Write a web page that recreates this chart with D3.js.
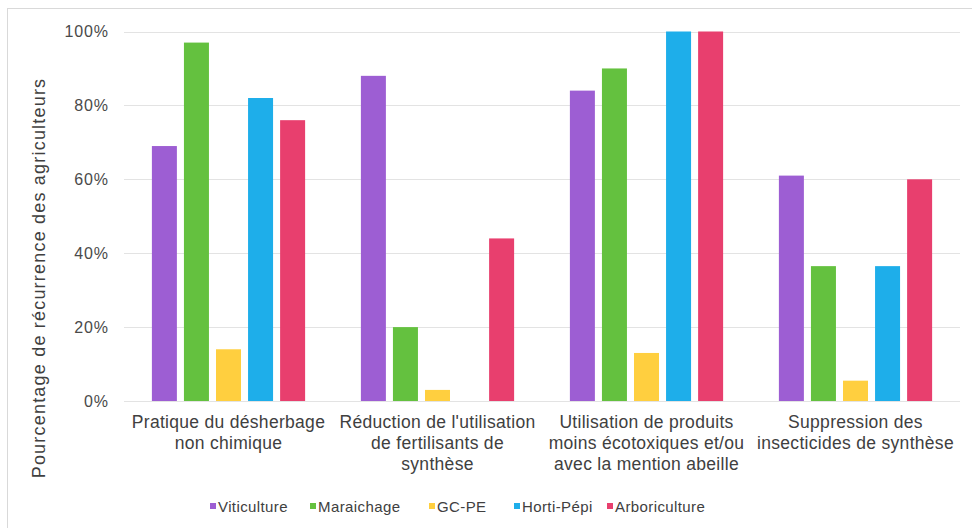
<!DOCTYPE html>
<html>
<head>
<meta charset="utf-8">
<script src="https://cdn.jsdelivr.net/npm/d3@7"></script>
<style>
  html, body { margin: 0; padding: 0; background: #fff; }
  svg text { font-family: "Liberation Sans", Arial, sans-serif; fill: #404040; }
</style>
</head>
<body>
<svg id="chart" width="972" height="528"></svg>
<script>
// Pratiques agroécologiques par filière (% des agriculteurs)
const categories = [
  ["Pratique du désherbage", "non chimique"],
  ["Réduction de l'utilisation", "de fertilisants de", "synthèse"],
  ["Utilisation de produits", "moins écotoxiques et/ou", "avec la mention abeille"],
  ["Suppression des", "insecticides de synthèse"]
];
const seriesNames = ["Viticulture", "Maraichage", "GC-PE", "Horti-Pépi", "Arboriculture"];
const seriesColors = ["#9d5ed3", "#64c13f", "#ffcf3f", "#1eaeea", "#e83f6e"];
const viticulture   = [69, 88, 84, 61];
const maraichage    = [97, 20, 90, 36.5];
const gcpe          = [14, 3, 13, 5.5];
const hortiPepi     = [82, 0, 100, 36.5];
const arboriculture = [76, 44, 100, 60];
const yTicks = [0, 20, 40, 60, 80, 100];

const series = [viticulture, maraichage, gcpe, hortiPepi, arboriculture];

const svg = d3.select("#chart");
const plot = { left: 124, right: 960, top: 31.5, bottom: 401 };

// chart frame
svg.append("rect")
  .attr("x", 7.5).attr("y", 8.5)
  .attr("width", 975).attr("height", 540)
  .attr("fill", "#fff").attr("stroke", "#d9d9d9");

const x0 = d3.scaleBand()
  .domain(d3.range(categories.length))
  .range([plot.left, plot.right])
  .padding(0);

const x1 = d3.scaleBand()
  .domain(d3.range(seriesNames.length))
  .range([0, x0.bandwidth()])
  .paddingInner(0.22)
  .paddingOuter(0.87);

const y = d3.scaleLinear().domain([0, 100]).range([plot.bottom, plot.top]);

// gridlines
svg.append("g")
  .selectAll("line")
  .data(yTicks)
  .join("line")
  .attr("x1", plot.left).attr("x2", plot.right)
  .attr("y1", d => Math.round(y(d)) + 0.5).attr("y2", d => Math.round(y(d)) + 0.5)
  .attr("stroke", "#e3e3e3").attr("stroke-width", 1);

// y axis tick labels
const yAxis = d3.axisLeft(y).tickValues(yTicks).tickFormat(d => d + "%").tickSize(0).tickPadding(0);
const gy = svg.append("g").attr("transform", `translate(${plot.left - 15},0)`).call(yAxis);
gy.select(".domain").remove();
gy.selectAll("text")
  .style("font-family", "'Liberation Sans', Arial, sans-serif")
  .style("font-size", "16px")
  .style("letter-spacing", "0.9px")
  .style("fill", "#4a4a4a");

// bars
const groups = svg.append("g")
  .selectAll("g")
  .data(categories.map((c, i) => i))
  .join("g")
  .attr("transform", i => `translate(${x0(i)},0)`);

groups.selectAll("rect")
  .data(i => series.map((s, k) => ({ k, v: s[i] })))
  .join("rect")
  .attr("x", d => x1(d.k))
  .attr("width", x1.bandwidth())
  .attr("y", d => y(d.v))
  .attr("height", d => y(0) - y(d.v))
  .attr("fill", d => seriesColors[d.k]);

// category labels
const catLabels = svg.append("g")
  .selectAll("text")
  .data(categories)
  .join("text")
  .attr("x", (d, i) => x0(i) + x0.bandwidth() / 2)
  .attr("y", 428)
  .attr("text-anchor", "middle")
  .style("font-size", "17.5px")
  .style("letter-spacing", "0.3px");
catLabels.selectAll("tspan")
  .data(d => d)
  .join("tspan")
  .attr("x", function () { return d3.select(this.parentNode).attr("x"); })
  .attr("dy", (d, j) => j === 0 ? 0 : 21)
  .text(d => d);

// y axis title
svg.append("text")
  .attr("transform", "translate(45,278) rotate(-90)")
  .attr("text-anchor", "middle")
  .style("font-size", "18px")
  .style("letter-spacing", "1.2px")
  .text("Pourcentage de récurrence des agriculteurs");

// legend
const legendX = [210, 310, 429, 514, 607];
const legend = svg.append("g")
  .selectAll("g")
  .data(seriesNames)
  .join("g")
  .attr("transform", (d, i) => `translate(${legendX[i]},506)`);
legend.append("rect")
  .attr("x", 0).attr("y", -3)
  .attr("width", 6).attr("height", 6)
  .attr("fill", (d, i) => seriesColors[i]);
legend.append("text")
  .attr("x", 8).attr("y", 5.5)
  .style("font-size", "15px")
  .style("letter-spacing", "0.4px")
  .text(d => d);
</script>
</body>
</html>
